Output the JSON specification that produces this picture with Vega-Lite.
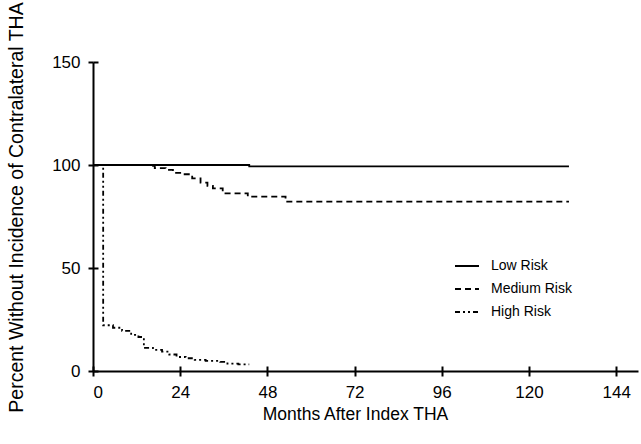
{
  "$schema": "https://vega.github.io/schema/vega-lite/v6.json",
  "width": 545,
  "height": 309,
  "autosize": {"type": "none"},
  "padding": {"left": 93, "top": 62, "right": 3, "bottom": 73},
  "background": "white",
  "config": {
    "view": {"stroke": null},
    "font": "Liberation Sans",
    "axis": {"domainColor": "black", "tickColor": "black", "labelColor": "black", "titleColor": "black", "grid": false, "domainWidth": 2, "tickWidth": 2, "tickSize": 5, "labelFontSize": 17, "titleFontSize": 17.5, "titleFontWeight": "normal"}
  },
  "data": {"values": [
    {"group": "Low Risk", "month": 0, "pct": 100},
    {"group": "Low Risk", "month": 43, "pct": 99.3},
    {"group": "Low Risk", "month": 131, "pct": 99.3},
    {"group": "Medium Risk", "month": 0, "pct": 100},
    {"group": "Medium Risk", "month": 15.5, "pct": 99.6},
    {"group": "Medium Risk", "month": 17, "pct": 98.5},
    {"group": "Medium Risk", "month": 20, "pct": 97.6},
    {"group": "Medium Risk", "month": 22, "pct": 96.2},
    {"group": "Medium Risk", "month": 24, "pct": 95.5},
    {"group": "Medium Risk", "month": 27.3, "pct": 93.5},
    {"group": "Medium Risk", "month": 29.6, "pct": 91.4},
    {"group": "Medium Risk", "month": 31.5, "pct": 89.9},
    {"group": "Medium Risk", "month": 33, "pct": 88.7},
    {"group": "Medium Risk", "month": 35.7, "pct": 86.2},
    {"group": "Medium Risk", "month": 42.6, "pct": 84.6},
    {"group": "Medium Risk", "month": 53, "pct": 82.2},
    {"group": "Medium Risk", "month": 131, "pct": 82.2},
    {"group": "High Risk", "month": 0, "pct": 100},
    {"group": "High Risk", "month": 2.8, "pct": 22.2},
    {"group": "High Risk", "month": 5.5, "pct": 21},
    {"group": "High Risk", "month": 8, "pct": 19.5},
    {"group": "High Risk", "month": 10.5, "pct": 17.5},
    {"group": "High Risk", "month": 12.5, "pct": 16.5},
    {"group": "High Risk", "month": 14, "pct": 11.2},
    {"group": "High Risk", "month": 16.5, "pct": 10.3},
    {"group": "High Risk", "month": 19, "pct": 9.4},
    {"group": "High Risk", "month": 21, "pct": 8},
    {"group": "High Risk", "month": 23, "pct": 6.8},
    {"group": "High Risk", "month": 25.5, "pct": 6.2},
    {"group": "High Risk", "month": 28, "pct": 5.4},
    {"group": "High Risk", "month": 31, "pct": 4.9},
    {"group": "High Risk", "month": 35, "pct": 4.4},
    {"group": "High Risk", "month": 37, "pct": 3.6},
    {"group": "High Risk", "month": 40, "pct": 3.2},
    {"group": "High Risk", "month": 43, "pct": 3.2}
  ]},
  "layer": [
    {
      "mark": {"type": "line", "interpolate": "step-after", "strokeWidth": 1.8, "color": "black"},
      "encoding": {
        "x": {"field": "month", "type": "quantitative", "scale": {"domain": [0, 150], "nice": false},
          "axis": {"orient": "bottom", "values": [0, 24, 48, 72, 96, 120, 144], "title": "Months After Index THA", "labelPadding": 8, "titlePadding": 5, "titleX": 262}},
        "y": {"field": "pct", "type": "quantitative", "scale": {"domain": [0, 150], "nice": false},
          "axis": {"orient": "left", "values": [0, 50, 100, 150], "title": "Percent Without Incidence of Contralateral THA", "titleFontSize": 19.5, "labelPadding": 8, "titlePadding": 25, "titleY": 145}},
        "strokeDash": {"field": "group", "type": "nominal",
          "scale": {"domain": ["Low Risk", "Medium Risk", "High Risk"], "range": [[1, 0], [6, 4], [5, 3, 2, 3, 2, 3]]},
          "legend": {"title": null, "orient": "none", "legendX": 361, "legendY": 191, "labelFontSize": 14, "labelColor": "black", "symbolType": "stroke", "symbolSize": 576, "symbolStrokeWidth": 1.8, "symbolStrokeColor": "black", "rowPadding": 3, "labelOffset": 11}}
      }
    },
    {
      "mark": {"type": "point", "opacity": 0},
      "encoding": {
        "x": {"field": "month", "type": "quantitative", "scale": {"domain": [0, 150], "nice": false},
          "axis": {"orient": "bottom", "offset": -5, "values": [0, 24, 48, 72, 96, 120, 144], "domain": false, "labels": false, "title": null}},
        "y": {"field": "pct", "type": "quantitative", "scale": {"domain": [0, 150], "nice": false},
          "axis": {"orient": "left", "offset": -5, "values": [0, 50, 100, 150], "domain": false, "labels": false, "title": null}}
      }
    }
  ],
  "resolve": {"scale": {"x": "independent", "y": "independent"}, "axis": {"x": "independent", "y": "independent"}}
}
